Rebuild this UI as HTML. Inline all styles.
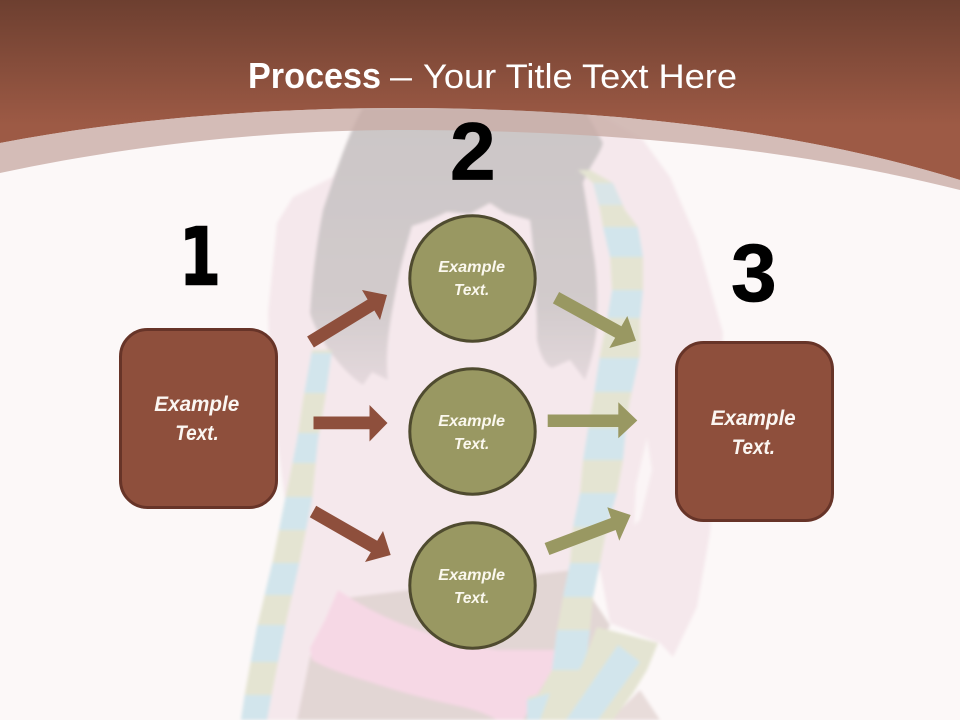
<!DOCTYPE html>
<html><head><meta charset="utf-8"><style>
html,body{margin:0;padding:0;background:#fcf8f8}
svg{display:block}
text{font-family:"Liberation Sans",sans-serif}
.t{font-weight:bold;font-style:italic;fill:#fbf8ee;font-size:16px}
.l{font-weight:bold;font-style:italic;fill:#fbf6f2;font-size:21px}
.n{font-weight:bold;fill:#000;stroke:#000;stroke-width:.8px;font-size:82px}
</style></head><body>
<svg width="960" height="720" viewBox="0 0 960 720" xmlns="http://www.w3.org/2000/svg">
<defs>
<linearGradient id="h" gradientUnits="userSpaceOnUse" x1="0" y1="0" x2="0" y2="125"><stop offset="0" stop-color="#6d3f30"/><stop offset="1" stop-color="#9d5a45"/></linearGradient>
<linearGradient id="hr" gradientUnits="userSpaceOnUse" x1="0" y1="110" x2="0" y2="390"><stop offset="0" stop-color="#cbc6c7"/><stop offset=".7" stop-color="#d2cbcc"/><stop offset="1" stop-color="#e6dade"/></linearGradient>
<filter id="b" x="-5%" y="-5%" width="110%" height="110%"><feGaussianBlur stdDeviation="1.5"/></filter>
<clipPath id="sr"><path d="M578,170 L593,183 L600,210 L603,227 L610,257 L612,290 L607,320 L600,355 L593,400 L590,417 L583,460 L580,493 L573,527 L570,563 L563,597 L557,630 L552,670 L535,700 L530,720 L590,720 L585,670 L590,630 L593,597 L600,563 L607,527 L617,493 L623,460 L627,417 L630,400 L640,355 L640,320 L643,290 L643,257 L638,227 L625,210 L613,183 L590,170 Z"/></clipPath>
<clipPath id="sl"><path d="M312,350 L332,350 L325,400 L318,440 L312,500 L300,560 L285,627 L272,693 L267,720 L241,720 L245,693 L257,627 L273,560 L285,500 L297,440 L303,400 Z"/></clipPath>
</defs>
<rect width="960" height="720" fill="#fcf8f8"/>
<g filter="url(#b)">
<!-- jacket and sleeves -->
<path d="M333,177 L293,197 L277,223 L268,313 L272,400 L285,500 L270,600 L258,680 L267,720 L297,720 L310,657 L340,597 L357,600 L450,600 L573,573 L600,570 L610,623 L660,643 L673,657 L697,607 L710,533 L723,333 L697,240 L670,177 L643,140 L600,115 L363,115 Z" fill="#f5e8ec"/>
<path d="M647,438 L652,470 L640,520 L634,525 L636,485 Z" fill="#fbf5f6"/>
<!-- hair -->
<path d="M363,108 C350,130 338,165 323,210 C316,245 312,280 310,313 C316,335 340,370 363,385 L372,372 L388,380 C384,350 392,310 398,280 C402,260 408,240 412,226 C425,222 435,218 447,212 L470,214 L490,203 L505,213 L530,220 C535,260 537,310 537,340 C540,355 545,365 552,368 L570,360 L585,380 C592,360 598,335 597,313 C598,290 596,265 593,250 C590,225 586,200 583,183 C590,165 600,155 603,143 C596,130 590,118 583,108 Z" fill="url(#hr)"/>
<!-- midriff / skin -->
<path d="M345,598 L573,570 L610,625 L585,680 L590,720 L297,720 L310,657 Z" fill="#e2d6d4"/>
<path d="M640,690 L660,720 L610,720 Z" fill="#e8dcda"/>
<!-- pink band -->
<path d="M338,590 C360,605 385,618 410,627 C440,638 470,646 497,650 L565,650 L540,690 L523,720 L497,720 C485,713 475,710 463,707 C430,700 400,692 373,683 C350,676 330,670 312,660 L310,648 L325,620 Z" fill="#f6d8e5"/>
<!-- right scarf -->
<g clip-path="url(#sr)">
<rect x="520" y="165" width="140" height="560" fill="#e4e4d2"/>
<rect x="520" y="183" width="140" height="22" fill="#d9e5e8"/>
<rect x="520" y="227" width="140" height="30" fill="#d2e5ec"/>
<rect x="520" y="290" width="140" height="28" fill="#d2e5ec"/>
<rect x="520" y="358" width="140" height="34" fill="#d2e5ec"/>
<rect x="520" y="428" width="140" height="32" fill="#d2e5ec"/>
<rect x="520" y="493" width="140" height="34" fill="#d2e5ec"/>
<rect x="520" y="563" width="140" height="34" fill="#d2e5ec"/>
<rect x="520" y="630" width="140" height="40" fill="#d2e5ec"/>
</g>
<!-- fringe end -->
<path d="M597,627 L658,643 L647,670 L633,693 L613,720 L527,720 L528,697 L570,687 L583,663 Z" fill="#e4e4d2"/>
<path d="M618,645 L640,662 L598,720 L566,720 Z" fill="#d2e5ec"/>
<path d="M527,700 L550,693 L540,720 L527,720 Z" fill="#d2e5ec"/>
<!-- left scarf -->
<g clip-path="url(#sl)">
<rect x="230" y="340" width="110" height="380" fill="#e4e4d2"/>
<rect x="230" y="353" width="110" height="40" fill="#d2e5ec"/>
<rect x="230" y="433" width="110" height="30" fill="#d2e5ec"/>
<rect x="230" y="497" width="110" height="33" fill="#d2e5ec"/>
<rect x="230" y="563" width="110" height="32" fill="#d2e5ec"/>
<rect x="230" y="625" width="110" height="37" fill="#d2e5ec"/>
<rect x="230" y="695" width="110" height="25" fill="#d2e5ec"/>
</g>
</g>
<!-- header -->
<path d="M0,0 H960 V180 C800,130 600,108 400,108 C270,108 130,118 0,143 Z" fill="url(#h)"/>
<path d="M0,143 C130,118 270,108 400,108 C600,108 800,130 960,180 V190 C800,150 620,130 400,130 C270,130 130,145 0,173 Z" fill="#c9aca6" fill-opacity="0.8"/>
<!-- title -->
<text x="248" y="88" font-size="36" font-weight="bold" fill="#fff" textLength="133" lengthAdjust="spacingAndGlyphs">Process</text>
<text x="390" y="88" font-size="34" fill="#fff" textLength="22" lengthAdjust="spacingAndGlyphs">–</text>
<text x="423" y="88" font-size="34" fill="#fff" textLength="314" lengthAdjust="spacingAndGlyphs">Your Title Text Here</text>
<!-- numbers -->
<text x="179" y="284.5" style="font-family:'DejaVu Sans',sans-serif;font-size:79px;font-weight:bold" fill="#000" stroke="#000" stroke-width="1.4" textLength="42" lengthAdjust="spacingAndGlyphs">1</text>
<text class="n" x="450" y="179.5">2</text>
<text class="n" x="731" y="301">3</text>
<!-- boxes -->
<rect x="120.5" y="329.5" width="156" height="178" rx="27" fill="#8e4f3c" stroke="#673428" stroke-width="3"/>
<rect x="676.5" y="342.5" width="156" height="178" rx="27" fill="#8e4f3c" stroke="#673428" stroke-width="3"/>
<text class="l" x="154.3" y="411" textLength="85" lengthAdjust="spacingAndGlyphs">Example</text>
<text class="l" x="175.3" y="440" textLength="43.4" lengthAdjust="spacingAndGlyphs">Text.</text>
<text class="l" x="710.7" y="425" textLength="85" lengthAdjust="spacingAndGlyphs">Example</text>
<text class="l" x="731.7" y="454" textLength="43.3" lengthAdjust="spacingAndGlyphs">Text.</text>
<!-- circles -->
<g fill="#999862" stroke="#4f4b2f" stroke-width="3">
<circle cx="472.5" cy="278.5" r="62.7"/>
<circle cx="472.5" cy="431.5" r="62.7"/>
<circle cx="472.5" cy="585.5" r="62.7"/>
</g>
<text class="t" x="438.3" y="272" textLength="66.7" lengthAdjust="spacingAndGlyphs">Example</text>
<text class="t" x="454" y="295" textLength="35.3" lengthAdjust="spacingAndGlyphs">Text.</text>
<text class="t" x="438.3" y="426" textLength="66.7" lengthAdjust="spacingAndGlyphs">Example</text>
<text class="t" x="454" y="449" textLength="35.3" lengthAdjust="spacingAndGlyphs">Text.</text>
<text class="t" x="438.3" y="580" textLength="66.7" lengthAdjust="spacingAndGlyphs">Example</text>
<text class="t" x="454" y="603" textLength="35.3" lengthAdjust="spacingAndGlyphs">Text.</text>
<!-- arrows -->
<g fill="#8e4f3c">
<polygon points="307.1,336.5 367.6,299.5 362,290 387,295 380,320 374.4,310.5 313.9,347.5"/>
<polygon points="313.5,416.5 369.5,416.5 369.5,405 387.5,423 369.5,441.5 369.5,429.3 313.5,429.3"/>
<polygon points="316.2,505.8 377.2,540.8 383,531 390.7,555 365,562 370.8,552.2 309.8,517.2"/>
</g>
<g fill="#999862">
<polygon points="559.1,292 621.4,326.3 627.3,316 636,340.7 609.3,348 615.2,337.7 552.9,303.4"/>
<polygon points="547.7,414.5 618.3,414.5 618.3,402.3 637.3,420.5 618.3,438.3 618.3,427 547.7,427"/>
<polygon points="544.6,543 610.9,518 607.3,507.3 630.7,515 619.3,540.7 615.7,530 549.4,555"/>
</g>
</svg>
</body></html>
